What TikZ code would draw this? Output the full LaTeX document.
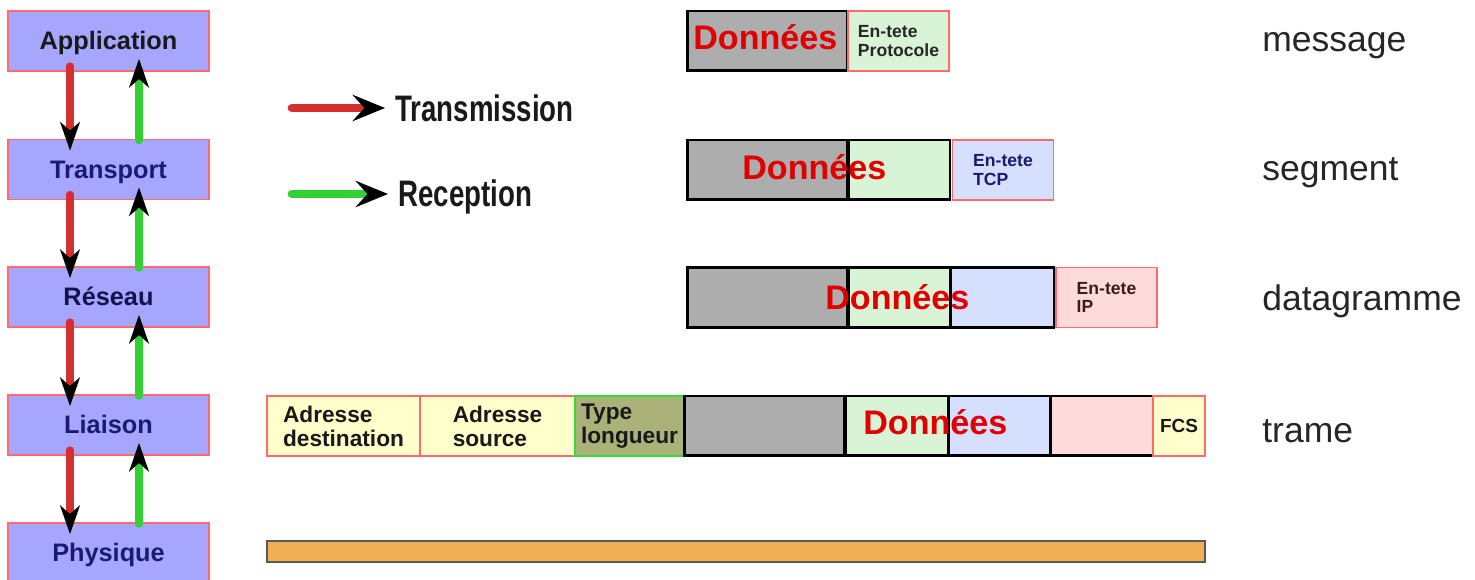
\documentclass[tikz,border=0pt]{standalone}
\usepackage{fontspec}
\setmainfont{Liberation Sans}
\usetikzlibrary{arrows.meta}

\definecolor{couchebleu}{HTML}{A6A6FF}
\definecolor{bordrouge}{HTML}{FF6A6A}
\definecolor{marine}{HTML}{1A1A70}
\definecolor{brun}{HTML}{3A1A1A}
\definecolor{flecherouge}{HTML}{D43030}
\definecolor{flecheverte}{HTML}{33D033}
\definecolor{donneesgris}{HTML}{ADADAD}
\definecolor{entetevert}{HTML}{D8F3D5}
\definecolor{entetebleu}{HTML}{D5DFFF}
\definecolor{enteterose}{HTML}{FFDADA}
\definecolor{adrjaune}{HTML}{FFFFCC}
\definecolor{typeolive}{HTML}{AAB27A}
\definecolor{typebord}{HTML}{33DD33}
\definecolor{cableorange}{HTML}{F2AE55}
\definecolor{rougetexte}{HTML}{E00000}

\begin{document}
\begin{tikzpicture}[x=0.02cm, y=-0.02cm]
        \tikzstyle{couche} = [rectangle, draw=bordrouge, line width=1pt, fill=couchebleu, inner sep=0pt, minimum width=4.02cm, minimum height=1.2cm, text height=10.2pt, text depth=0pt, font=\bfseries\fontsize{14.4}{16}\selectfont, text=marine]
        \tikzstyle{emission} = [flecherouge, line width=4pt, line cap=round, shorten <=-0.12cm, shorten >=-0.24cm, -{Stealth[black, length=16.5pt, width=11.5pt, inset=5pt, line width=0pt]}]
        \tikzstyle{remontee} = [flecheverte, line width=4pt, line cap=round, shorten <=-0.04cm, shorten >=-0.26cm, -{Stealth[black, length=16.5pt, width=11.5pt, inset=5pt, line width=0pt]}]
        \tikzstyle{legende} = [inner sep=0pt, font=\bfseries\fontsize{21}{24}\selectfont, text=black!90]
        \tikzstyle{legfleche} = [line width=5pt, line cap=round, shorten >=0.2cm, -{Stealth[black, length=18.7pt, width=15.3pt, inset=7pt, line width=0pt]}]
        \tikzstyle{cadre} = [rectangle, draw=black, line width=1.7pt, inner sep=0pt, minimum height=1.2cm]
        \tikzstyle{gris} = [cadre, fill=donneesgris, minimum width=3.22cm]
        \tikzstyle{entete} = [rectangle, draw=bordrouge, line width=0.9pt, inner sep=0pt, minimum height=1.2cm, minimum width=2.02cm, align=left, font=\bfseries\fontsize{10}{10.5}\selectfont]
        \tikzstyle{adresse} = [rectangle, draw=bordrouge, line width=0.9pt, fill=adrjaune, inner sep=0pt, minimum height=1.2cm, align=left, font=\bfseries\fontsize{12.9}{13.6}\selectfont, text=black!90]
        \tikzstyle{donnees} = [anchor=base west, inner sep=0pt, font=\bfseries\fontsize{19.4}{22}\selectfont, text=rougetexte]
        \tikzstyle{nom} = [anchor=base west, inner sep=0pt, font=\fontsize{20.2}{24}\selectfont, text=black!85]
        \useasboundingbox (0,0) rectangle (1475,580);

        % les couches
        \node[couche, text=black!90] (app) at (108.5,41) {Application};
        \node[couche] (trans) at (108.5,169.5) {Transport};
        \node[couche, text=marine!70!black] (res) at (108.5,297) {Réseau};
        \node[couche] (liai) at (108.5,425) {Liaison};
        \node[couche] (phys) at (108.5,553) {Physique};
        \coordinate (bas) at (70,0);
        \coordinate (haut) at (139,0);
        \draw[emission] (app.south -| bas) -- (trans.north -| bas);
        \draw[remontee] (trans.north -| haut) -- (app.south -| haut);
        \draw[emission] (trans.south -| bas) -- (res.north -| bas);
        \draw[remontee] (res.north -| haut) -- (trans.south -| haut);
        \draw[emission] (res.south -| bas) -- (liai.north -| bas);
        \draw[remontee] (liai.north -| haut) -- (res.south -| haut);
        \draw[emission] (liai.south -| bas) -- (phys.north -| bas);
        \draw[remontee] (phys.north -| haut) -- (liai.south -| haut);

        % legende
        \coordinate (lrouge) at (292,108);
        \coordinate (lvert) at (292,194);
        \node[legende, anchor=base west] (ltrans) at (395,121.5) {\scalebox{0.75}[1]{Transmission}};
        \node[legende, anchor=base west] (lrecep) at (398,206.5) {\scalebox{0.75}[1]{Reception}};
        \draw[legfleche, flecherouge] (lrouge) -- (lrouge -| ltrans.west);
        \draw[legfleche, flecheverte] (lvert) -- (lvert -| lrecep.west);

        % message
        \node[gris] (mg) at (767.5,41) {};
        \node[entete, fill=entetevert, text=black!85] (mp) at (898.5,41) {En-tete\\Protocole};
        \node[donnees] (md) at (693,50) {Données};

        % segment
        \node[gris] (sg) at (767.5,170) {};
        \node[cadre, fill=entetevert, minimum width=2.04cm] (sv) at (899,170) {};
        \node[entete, fill=entetebleu, text=marine] (stcp) at (1003,170) {En-tete\\TCP};
        \node[donnees] (sd) at (742,180) {Données};

        % datagramme
        \node[gris] (dg) at (767.5,297.5) {};
        \node[cadre, fill=entetevert, minimum width=2.04cm] (dv) at (899,297.5) {};
        \node[cadre, fill=entetebleu, minimum width=2.08cm] (db) at (1002,297.5) {};
        \node[entete, fill=enteterose, text=brun] (dip) at (1106.5,297.5) {En-tete\\IP};
        \node[donnees] (dd) at (825,310) {Données};

        % trame
        \node[adresse, minimum width=3.06cm] (tdest) at (343.5,426) {Adresse\\destination};
        \node[adresse, minimum width=3.1cm] (tsrc) at (497.5,426) {Adresse\\source};
        \node[adresse, draw=typebord, line width=1.2pt, fill=typeolive, minimum width=2.18cm] (ttype) at (629.5,426) {Type\\longueur};
        \node[gris] (tg) at (764.5,426) {};
        \node[cadre, fill=entetevert, minimum width=2.06cm] (tv) at (896.5,426) {};
        \node[cadre, fill=entetebleu, minimum width=2.04cm] (tb) at (999,426) {};
        \node[cadre, fill=enteterose, minimum width=2.06cm] (tr) at (1101.5,426) {};
        \node[adresse, minimum width=1.04cm, font=\bfseries\fontsize{10.8}{12}\selectfont] (tfcs) at (1179,426) {FCS};
        \node[donnees] (td) at (863,435) {Données};

        % support physique
        \node[rectangle, draw=black!65, line width=1pt, fill=cableorange, minimum width=18.76cm, minimum height=0.42cm, inner sep=0pt] (cab) at (736,551.5) {};

        % noms des unites
        \node[nom] (nmsg) at (1262,52) {message};
        \node[nom] (nseg) at (1262,181) {segment};
        \node[nom] (ndat) at (1262,311) {datagramme};
        \node[nom] (ntra) at (1262,443) {trame};
\end{tikzpicture}
\end{document}
